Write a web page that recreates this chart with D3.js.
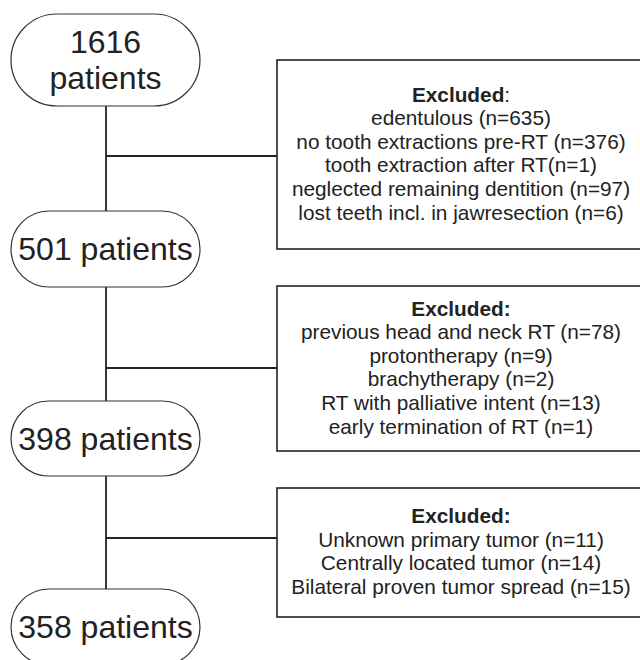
<!DOCTYPE html>
<html>
<head>
<meta charset="utf-8">
<script src="https://cdn.jsdelivr.net/npm/d3@7"></script>
<style>
	body { margin: 0; background: #fff; }
	svg { display: block; }
	text { font-family: Arial, "Liberation Sans", Helvetica, sans-serif; fill: #222; }
</style>
</head>
<body>
<script>
// flow stages (patients remaining)
var stageLabels = [["1616", "patients"], ["501 patients"], ["398 patients"], ["358 patients"]];

// exclusion boxes
var excludedTitles = ["Excluded", "Excluded:", "Excluded:"];
var excludedItems = [
	["edentulous (n=635)",
	 "no tooth extractions pre-RT (n=376)",
	 "tooth extraction after RT(n=1)",
	 "neglected remaining dentition (n=97)",
	 "lost teeth incl. in jawresection (n=6)"],
	["previous head and neck RT (n=78)",
	 "protontherapy (n=9)",
	 "brachytherapy (n=2)",
	 "RT with palliative intent (n=13)",
	 "early termination of RT (n=1)"],
	["Unknown primary tumor (n=11)",
	 "Centrally located tumor (n=14)",
	 "Bilateral proven tumor spread (n=15)"]
];

// basic layout
var width = 640,
	height = 660,
	stemX = 106,
	ovalX = 11,
	ovalW = 189,
	boxX = 277,
	boxW = 368,
	lineH = 23.6;

var ovals = [
	{ top: 14, h: 92 },
	{ top: 211, h: 76 },
	{ top: 401, h: 75 },
	{ top: 589, h: 76 }
];
var boxes = [
	{ top: 60, bottom: 249, link: 156 },
	{ top: 286, bottom: 451, link: 368 },
	{ top: 488, bottom: 617, link: 538 }
];

var svg = d3.select("body")
	.append("svg")
		.attr("width", width)
		.attr("height", height);

// vertical stem between ovals
svg.selectAll("line.stem")
	.data(d3.pairs(ovals))
	.enter()
	.append("line")
		.attr("class", "stem")
		.attr("x1", stemX).attr("x2", stemX)
		.attr("y1", function(d) { return d[0].top + d[0].h; })
		.attr("y2", function(d) { return d[1].top; })
		.attr("stroke", "#222")
		.attr("stroke-width", 1.8);

// horizontal links to the boxes
svg.selectAll("line.link")
	.data(boxes)
	.enter()
	.append("line")
		.attr("class", "link")
		.attr("x1", stemX).attr("x2", boxX)
		.attr("y1", function(d) { return d.link; })
		.attr("y2", function(d) { return d.link; })
		.attr("stroke", "#222")
		.attr("stroke-width", 1.8);

// ovals
var stage = svg.selectAll("g.stage")
	.data(stageLabels)
	.enter()
	.append("g")
		.attr("class", "stage");

stage.append("rect")
	.attr("x", ovalX)
	.attr("y", function(d, i) { return ovals[i].top; })
	.attr("width", ovalW)
	.attr("height", function(d, i) { return ovals[i].h; })
	.attr("rx", function(d, i) { return ovals[i].h / 2; })
	.attr("fill", "#fff")
	.attr("stroke", "#333")
	.attr("stroke-width", 1.2);

stage.each(function(d, i) {
	var cy = ovals[i].top + ovals[i].h / 2;
	var lh = 36;
	d3.select(this).selectAll("text")
		.data(d)
		.enter()
		.append("text")
			.attr("x", ovalX + ovalW / 2)
			.attr("y", function(t, j) { return cy + (j - (d.length - 1) / 2) * lh + 11; })
			.attr("text-anchor", "middle")
			.attr("font-size", "32px")
			.text(function(t) { return t; });
});

// exclusion boxes
var box = svg.selectAll("g.box")
	.data(boxes)
	.enter()
	.append("g")
		.attr("class", "box");

box.append("rect")
	.attr("x", boxX)
	.attr("y", function(d) { return d.top; })
	.attr("width", boxW)
	.attr("height", function(d) { return d.bottom - d.top; })
	.attr("fill", "#fff")
	.attr("stroke", "#222")
	.attr("stroke-width", 1.6);

box.each(function(d, i) {
	var lines = [excludedTitles[i]].concat(excludedItems[i]);
	var cy = (d.top + d.bottom) / 2;
	var cx = 461;
	var g = d3.select(this);
	lines.forEach(function(t, j) {
		var txt = g.append("text")
			.attr("x", cx)
			.attr("y", cy + (j - (lines.length - 1) / 2) * lineH + 6)
			.attr("text-anchor", "middle")
			.attr("font-size", "20.8px");
		if (j === 0) {
			txt.append("tspan").attr("font-weight", "bold").text(t.replace(":", ""));
			if (t.indexOf(":") > -1) {
				txt.append("tspan").attr("font-weight", "bold").text(":");
			} else {
				txt.append("tspan").text(":");
			}
		} else {
			txt.text(t);
		}
	});
});
</script>
</body>
</html>
